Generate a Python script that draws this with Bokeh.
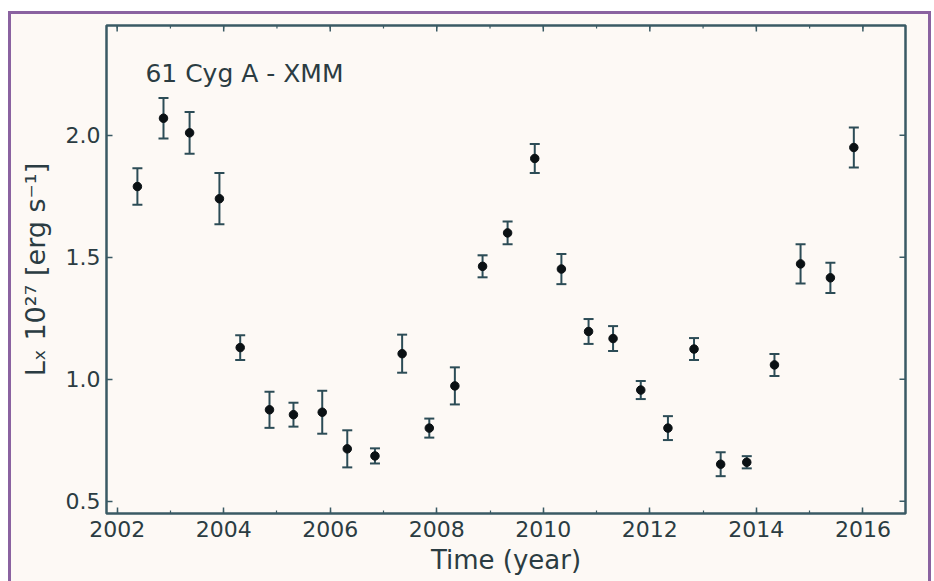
from bokeh.plotting import figure
from bokeh.models import (ColumnDataSource, Whisker, TeeHead, Label,
                          FixedTicker, Range1d, PrintfTickFormatter)
from bokeh.layouts import column
from bokeh.embed import file_html
from bokeh.resources import INLINE

# ---- data ----
time_year = [2002.38, 2002.87, 2003.36, 2003.92, 2004.31, 2004.86, 2005.31, 2005.85,
             2006.32, 2006.84, 2007.35, 2007.86, 2008.34, 2008.86, 2009.33, 2009.84,
             2010.34, 2010.85, 2011.31, 2011.83, 2012.34, 2012.83, 2013.33, 2013.82,
             2014.34, 2014.83, 2015.39, 2015.83]
lx = [1.79, 2.07, 2.01, 1.74, 1.13, 0.875, 0.855, 0.865,
      0.715, 0.686, 1.105, 0.80, 0.973, 1.463, 1.60, 1.905,
      1.452, 1.196, 1.167, 0.956, 0.80, 1.124, 0.652, 0.66,
      1.059, 1.473, 1.416, 1.95]
lx_err = [0.075, 0.083, 0.086, 0.105, 0.051, 0.074, 0.049, 0.088,
          0.076, 0.031, 0.078, 0.039, 0.076, 0.045, 0.047, 0.059,
          0.062, 0.051, 0.051, 0.037, 0.049, 0.045, 0.049, 0.025,
          0.045, 0.080, 0.062, 0.082]
x_major_ticks = [2002, 2004, 2006, 2008, 2010, 2012, 2014, 2016]
x_minor_ticks = list(range(2002, 2017))
y_major_ticks = [0.5, 1.0, 1.5, 2.0]
title_text = "61 Cyg A - XMM"
x_label = "Time (year)"
y_label = "L\u2093 10\u00b2\u2077 [erg s\u207b\u00b9]"
x_lim = (2001.8, 2016.8)
y_lim = (0.45, 2.45)

lower = [v - e for v, e in zip(lx, lx_err)]
upper = [v + e for v, e in zip(lx, lx_err)]
src = ColumnDataSource(dict(t=time_year, lx=lx, lower=lower, upper=upper))

BG = "#fdf9f5"
FRAME = "#3a5a64"
TEXT = "#2b3c42"
FONT = "DejaVu Sans"

p = figure(width=917, height=567, output_backend="svg", toolbar_location=None,
           x_range=Range1d(*x_lim), y_range=Range1d(*y_lim),
           min_border_left=95, min_border_top=11, min_border_right=23, min_border_bottom=68,
           background_fill_color=BG, border_fill_color=BG)
p.grid.visible = False
p.outline_line_color = FRAME
p.outline_line_width = 2.5

# mirrored tick marks on the top and right edges (dash markers centred on the edge,
# the outer half is clipped by the frame)
p.scatter(x=x_minor_ticks, y=[y_lim[1]] * len(x_minor_ticks), marker="dash", size=6,
          angle=1.5708, line_color=FRAME, line_width=1.2)
p.scatter(x=x_major_ticks, y=[y_lim[1]] * len(x_major_ticks), marker="dash", size=12,
          angle=1.5708, line_color=FRAME, line_width=1.5)
p.scatter(x=[x_lim[1]] * len(y_major_ticks), y=y_major_ticks, marker="dash", size=12,
          line_color=FRAME, line_width=1.5)

# error bars
wh = Whisker(source=src, base="t", lower="lower", upper="upper", dimension="height",
             line_color="#2c4c56", line_width=2,
             upper_head=TeeHead(size=10, line_color="#2c4c56", line_width=2),
             lower_head=TeeHead(size=10, line_color="#2c4c56", line_width=2))
p.add_layout(wh)
p.scatter("t", "lx", source=src, size=8.5, color="#0b1114")

for ax in (p.xaxis[0], p.yaxis[0]):
    ax.axis_line_color = None
    ax.major_tick_in = 6
    ax.major_tick_out = 0
    ax.minor_tick_in = 3
    ax.minor_tick_out = 0
    ax.major_tick_line_color = FRAME
    ax.minor_tick_line_color = FRAME
    ax.major_tick_line_width = 1.5
    ax.minor_tick_line_width = 1.2
    ax.major_label_text_font = FONT
    ax.major_label_text_color = TEXT
    ax.major_label_text_font_size = "22px"
    ax.axis_label_text_font = FONT
    ax.axis_label_text_font_style = "normal"
    ax.axis_label_text_color = TEXT

p.xaxis.ticker = FixedTicker(ticks=x_major_ticks, minor_ticks=x_minor_ticks)
p.yaxis.ticker = FixedTicker(ticks=y_major_ticks, minor_ticks=[])
p.yaxis.formatter = PrintfTickFormatter(format="%.1f")
p.yaxis.minor_tick_line_color = None
p.xaxis.major_label_standoff = 7
p.yaxis.major_label_standoff = 6

p.xaxis.axis_label = x_label
p.yaxis.axis_label = y_label
p.xaxis.axis_label_text_font_size = "26px"
p.yaxis.axis_label_text_font_size = "27px"
p.xaxis.axis_label_standoff = 5
p.yaxis.axis_label_standoff = 12

p.add_layout(Label(x=2002.53, y=2.255, text=title_text, text_font=FONT,
                   text_font_size="25px", text_color=TEXT, text_baseline="alphabetic"))

layout = column(p, styles={"border-top": "3px solid #8a62a0",
                           "border-left": "3px solid #8a62a0",
                           "border-right": "3px solid #8a62a0",
                           "margin-left": "8px", "margin-top": "11px",
                           "background-color": BG})

open("out.html", "w").write(file_html(layout, INLINE))
